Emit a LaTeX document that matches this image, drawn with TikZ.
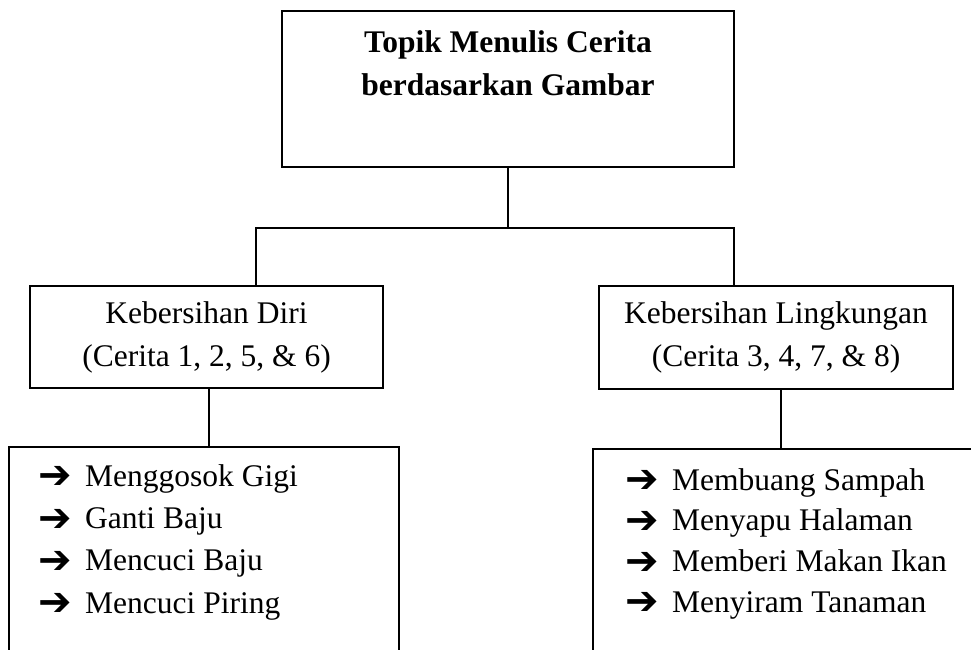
\documentclass[tikz,border=0pt]{standalone}
\usepackage{fontspec}
\setmainfont{Liberation Serif}
\newfontfamily\panah{DejaVu Sans}
\newcommand{\butir}{\raisebox{-2.5pt}{\panah\fontsize{40}{40}\selectfont ➔}}

\begin{document}
\begin{tikzpicture}[x=1pt,y=-1pt,
		kotak/.style={draw, line width=1.4pt, inner sep=0pt, outer sep=0pt},
		teks/.style={font=\fontsize{31.5}{43}\selectfont, align=center, inner sep=0pt},
		garis/.style={line width=1.4pt}]
	\clip (0,0) rectangle (971,650);
	\fill[white] (0,0) rectangle (971,650);
	% topik utama
	\node[kotak, minimum width=452, minimum height=156] (topik) at (508,89) {};
	\node[teks, font=\fontsize{31.5}{43}\selectfont\bfseries, anchor=north] (judul) at (508,30.5) {Topik Menulis Cerita\\berdasarkan Gambar};
	% dua cabang
	\node[kotak, teks, minimum width=353, minimum height=102] (diri) at (206.5,337) {Kebersihan Diri\\(Cerita 1, 2, 5, \& 6)};
	\node[kotak, teks, minimum width=354, minimum height=103] (lingkungan) at (776,337.5) {Kebersihan Lingkungan\\(Cerita 3, 4, 7, \& 8)};
	% kotak kegiatan
	\node[kotak, minimum width=390, minimum height=260, anchor=north west] (kegiatandiri) at (9,447) {};
	\node[kotak, minimum width=420, minimum height=260, anchor=north west] (kegiatanlingk) at (593,449) {};
	\node[anchor=north west, inner sep=0pt] (daftardiri) at (38,456.4) {%
		\fontsize{31.5}{42.3}\selectfont
		\begin{tabular}{@{}p{47pt}@{}l@{}}
			\butir & Menggosok Gigi\\
			\butir & Ganti Baju\\
			\butir & Mencuci Baju\\
			\butir & Mencuci Piring\\
	\end{tabular}};
	\node[anchor=north west, inner sep=0pt] (daftarlingk) at (625,461.5) {%
		\fontsize{31.5}{40.7}\selectfont
		\begin{tabular}{@{}p{47pt}@{}l@{}}
			\butir & Membuang Sampah\\
			\butir & Menyapu Halaman\\
			\butir & Memberi Makan Ikan\\
			\butir & Menyiram Tanaman\\
	\end{tabular}};
	
	\coordinate (cabangkiri) at (256,228);
	\coordinate (cabangkanan) at (734,228);
	\draw[garis] (topik.south) -- (topik.south |- cabangkiri);
	\draw[garis] (diri.north -| cabangkiri) -- (cabangkiri) -- (cabangkanan) -- (lingkungan.north -| cabangkanan);
	\draw[garis] ([xshift=2.5pt]diri.south) -- ([xshift=2.5pt]diri.south |- kegiatandiri.north);
	\draw[garis] ([xshift=5pt]lingkungan.south) -- ([xshift=5pt]lingkungan.south |- kegiatanlingk.north);
\end{tikzpicture}
\end{document}
